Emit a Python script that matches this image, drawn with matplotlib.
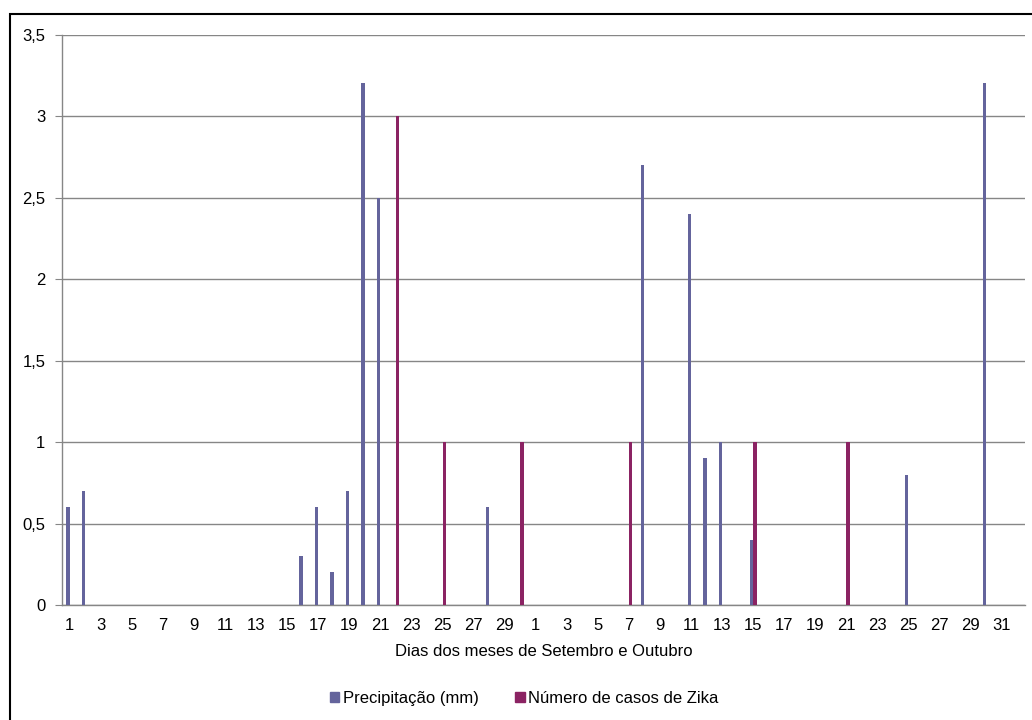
import numpy as np
import matplotlib.pyplot as plt
from matplotlib.patches import Rectangle, Patch

plt.rcParams['font.family'] = ['Liberation Sans', 'DejaVu Sans']

# dias de setembro (1-30) e outubro (1-31)
dias = list(range(1, 31)) + list(range(1, 32))

# precipitação (mm) por dia
precip_set = {1: 0.6, 2: 0.7, 16: 0.3, 17: 0.6, 18: 0.2, 19: 0.7, 20: 3.2, 21: 2.5, 28: 0.6}
precip_out = {8: 2.7, 11: 2.4, 12: 0.9, 13: 1.0, 15: 0.4, 25: 0.8, 30: 3.2}
# número de casos de Zika por dia
zika_set = {22: 3, 25: 1, 30: 1}
zika_out = {7: 1, 15: 1, 21: 1}

precip = [precip_set.get(d, 0) for d in range(1, 31)] + [precip_out.get(d, 0) for d in range(1, 32)]
zika = [zika_set.get(d, 0) for d in range(1, 31)] + [zika_out.get(d, 0) for d in range(1, 32)]

cor_precip = '#64649C'
cor_zika = '#8B2363'
cinza = '#868686'
fs = 12

fig = plt.figure(figsize=(10.32, 7.2), dpi=100)
ax = fig.add_axes([0.0601, 0.1597, 0.9331, 0.7923])

x = np.arange(len(dias))
w = 0.22
ax.bar(x - w / 2, precip, width=w, color=cor_precip, zorder=3)
ax.bar(x + w / 2, zika, width=w, color=cor_zika, zorder=3)

ax.set_xlim(-0.5, len(dias) + 0.5)
ax.set_ylim(0, 3.5)
yt = np.arange(0, 3.51, 0.5)
ax.set_yticks(yt)
ax.set_yticklabels([('%g' % v).replace('.', ',') for v in yt])
ax.set_xticks(x[::2])
ax.set_xticklabels([str(d) for d in dias[::2]])

ax.grid(axis='y', color=cinza, linewidth=1, zorder=0)
for s in ['top', 'right']:
    ax.spines[s].set_visible(False)
for s in ['left', 'bottom']:
    ax.spines[s].set_color(cinza)
    ax.spines[s].set_linewidth(1)
ax.tick_params(axis='y', length=5, color=cinza, pad=7, labelsize=fs)
ax.tick_params(axis='x', length=0, pad=9, labelsize=fs)

ax.set_xlabel('Dias dos meses de Setembro e Outubro', fontsize=fs, labelpad=8)

handles = [Patch(color=cor_precip, label='Precipitação (mm)'),
           Patch(color=cor_zika, label='Número de casos de Zika')]
fig.legend(handles=handles, loc='center', bbox_to_anchor=(0.508, 0.03), ncol=2,
           frameon=False, fontsize=fs, handlelength=0.55, handleheight=0.55,
           handletextpad=0.2, columnspacing=2.2)

# moldura do gráfico (só a esquerda e o topo aparecem)
fig.patches.append(Rectangle((10 / 1032, -0.1), 1.2, 0.1 + 706 / 720,
                             transform=fig.transFigure, fill=False,
                             edgecolor='black', linewidth=1.5))

fig.savefig('out.png', dpi=100)
